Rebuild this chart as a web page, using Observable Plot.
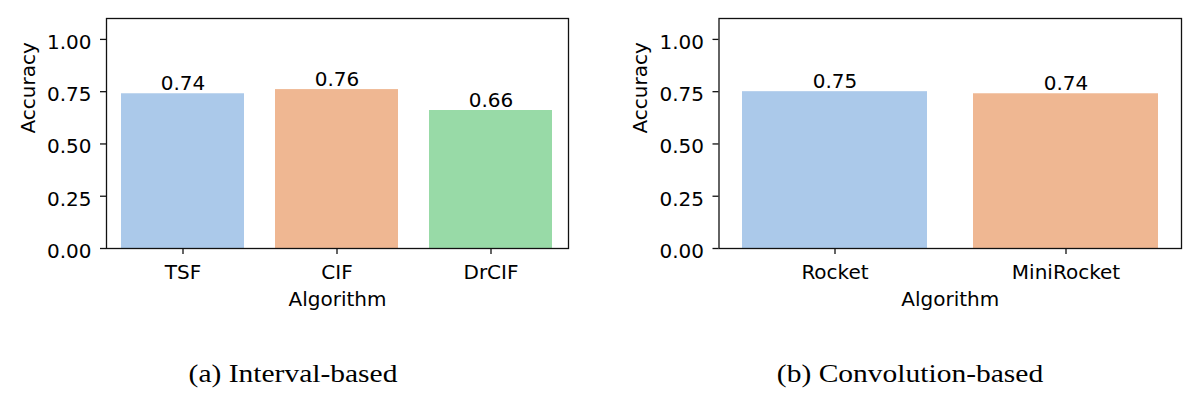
<!DOCTYPE html>
<html>
<head>
<meta charset="utf-8">
<script src="https://cdn.jsdelivr.net/npm/d3@7"></script>
<script src="https://cdn.jsdelivr.net/npm/@observablehq/plot@0.6"></script>
<style>
  html, body { margin: 0; padding: 0; background: #fff; }
  #wrap { position: relative; width: 1200px; height: 408px; overflow: hidden; background: #fff; }
  .panel { position: absolute; top: 0; }
  .cap { position: absolute; top: 360px; font-family: "Liberation Serif", serif; font-size: 25px; color: #000;
         white-space: nowrap; transform: translateX(-50%) scaleX(1.18); transform-origin: center; }
</style>
</head>
<body>
<div id="wrap">
  <div id="pa" class="panel" style="left:0px"></div>
  <div id="pb" class="panel" style="left:600px"></div>
  <div class="cap" style="left:293px">(a) Interval-based</div>
  <div class="cap" style="left:910px">(b) Convolution-based</div>
</div>
<script>
// Data
const intervalAlgorithms = ["TSF", "CIF", "DrCIF"];
const intervalAccuracy = [0.74, 0.76, 0.66];
const convolutionAlgorithms = ["Rocket", "MiniRocket"];
const convolutionAccuracy = [0.75, 0.74];
const yTicks = [0, 0.25, 0.5, 0.75, 1.0];
const barColors = ["#abc9ea", "#efb792", "#98daa7"];
const xLabel = "Algorithm";
const yLabel = "Accuracy";

const FONT = "DejaVu Sans";
const FS = 20;

function panel(cats, vals, marginLeft, marginRight) {
  const data = cats.map((c, i) => ({algo: c, acc: vals[i], color: barColors[i]}));
  return Plot.plot({
    width: 600,
    height: 330,
    marginLeft,
    marginRight,
    marginTop: 18,
    marginBottom: 82,
    style: {fontFamily: FONT, fontSize: FS + "px", color: "#000", background: "transparent", overflow: "visible"},
    x: {domain: cats, paddingInner: 0.2, paddingOuter: 0.1, label: null},
    y: {domain: [0, 1.1], label: null},
    marks: [
      Plot.barY(data, {x: "algo", y: "acc", fill: "color"}),
      Plot.text(data, {x: "algo", y: "acc", text: d => d.acc.toFixed(2), lineAnchor: "bottom", dy: -3.5,
                       fontSize: FS, fill: "#000"}),
      Plot.frame({stroke: "#111", strokeWidth: 1.3}),
      Plot.axisY({ticks: yTicks, tickSize: 6, tickFormat: () => "", label: null, stroke: "#111", strokeWidth: 1.3}),
      Plot.axisY({ticks: yTicks, tickSize: 0, tickPadding: 15, tickFormat: d3.format(".2f"), label: null,
                  dy: 3, fontSize: FS, fill: "#000"}),
      Plot.axisX({tickSize: 6, tickPadding: 10, label: null, fontSize: FS, fill: "#000", stroke: "#111", strokeWidth: 1.3}),
      Plot.text([xLabel], {frameAnchor: "bottom", lineAnchor: "bottom", dy: 57, fontSize: FS, fill: "#000"}),
      Plot.text([yLabel], {frameAnchor: "left", rotate: -90, dx: -78, lineAnchor: "middle", fontSize: FS, fill: "#000"})
    ]
  });
}

document.getElementById("pa").appendChild(panel(intervalAlgorithms, intervalAccuracy, 106, 32));
document.getElementById("pb").appendChild(panel(convolutionAlgorithms, convolutionAccuracy, 118.5, 19));
</script>
</body>
</html>
